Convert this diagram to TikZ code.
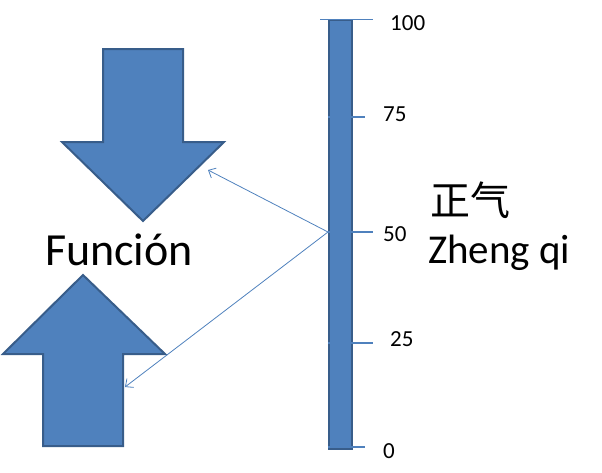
\documentclass[tikz,border=0pt]{standalone}
\usepackage{fontspec}
\setmainfont{Carlito}
\newfontfamily\cjk{Noto Sans CJK SC}
\usetikzlibrary{positioning, arrows.meta}
\definecolor{fillblue}{HTML}{4F81BD}
\definecolor{edgeblue}{HTML}{385D8A}

\begin{document}
\begin{tikzpicture}[x=1pt, y=-1pt,
  big/.style = {fill=fillblue, draw=edgeblue, line width=2pt, line join=miter},
  tickline/.style = {draw=fillblue, line width=1.2pt},
  link/.style = {draw=fillblue, line width=0.8pt, -{Straight Barb[length=6pt, width=11pt]}},
  num/.style = {font=\fontsize{23}{25}\selectfont, anchor=west, inner sep=0pt}]
\useasboundingbox (0,0) rectangle (602,472);

% scale bar
\node[big, minimum width=23pt, minimum height=429pt, inner sep=0pt, anchor=north west] (bar) at (328,19) {};
\coordinate (mid) at (bar.west |- 0,232);

% big arrows
\draw[big] (103,49) -- (183,49) -- (183,142) -- (224,142) -- (143,221) -- (62,142) -- (103,142) -- cycle;
\draw[big] (83,275) -- (165,354) -- (123,354) -- (123,446) -- (43,446) -- (43,354) -- (3,354) -- cycle;
\coordinate (down) at (208,170);
\coordinate (up) at (125,387);

% ticks and numbers
\node[num] (n100) at (390,23) {100};
\node[num] (n75) at (383,114) {75};
\node[num] (n50) at (383,234) {50};
\node[num] (n25) at (390,339) {25};
\node[num] (n0) at (383,451) {0};
\draw[tickline] (320,19.5) -- (373,19.5);
\foreach \y/\r in {117/365, 232/373, 343/373, 447/365}
  \draw[tickline] (328,\y) -- (\r,\y);

% labels
\node[font=\fontsize{46}{50}\selectfont, anchor=base] (fun) at (119,265) {Función};
\node[font=\cjk\fontsize{40}{44}\selectfont] (zq) at (470,200) {正气};
\node[font=\fontsize{41}{45}\selectfont, anchor=base west, inner sep=0pt] (pin) at (428,263) {Zheng qi};

\draw[link] (mid) -- (down);
\draw[link] (mid) -- (up);
\end{tikzpicture}
\end{document}
